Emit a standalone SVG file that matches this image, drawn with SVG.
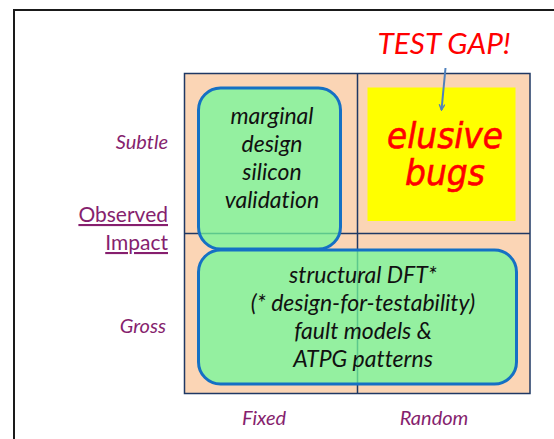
<svg xmlns="http://www.w3.org/2000/svg" width="554" height="439" viewBox="0 0 554 439">
<defs>
<style>
text{font-variant-ligatures:none}
.lbl{font-family:Lato,"Liberation Sans",sans-serif;font-style:italic;font-size:20px;fill:#861F6E}
.axis{font-family:Lato,"Liberation Sans",sans-serif;font-size:21px;fill:#861F6E;text-decoration:underline}
.box{fill:#72F899;fill-opacity:0.75;stroke:#1570C4;stroke-width:3}
.bt{font-family:Lato,"Liberation Sans",sans-serif;font-style:italic;font-size:23px;fill:#111;text-anchor:middle}
.grid{fill:none;stroke:#1F3864;stroke-width:1.5}
.bug{font-family:"DejaVu Sans",sans-serif;font-style:oblique;font-size:36px;fill:#FF0000;stroke:#FF0000;stroke-width:0.6;text-anchor:middle}
</style>
<marker id="ah" viewBox="0 0 10 10" refX="9" refY="5" markerWidth="7" markerHeight="7" orient="auto" markerUnits="userSpaceOnUse">
<path d="M1,1 L9,5 L1,9" fill="none" stroke="#4F81BD" stroke-width="2"/>
</marker>
</defs>
<rect width="554" height="439" fill="#ffffff"/>
<path d="M14,439 V10 H554" fill="none" stroke="#1a1a1a" stroke-width="2"/>
<g id="grid">
<rect x="184.5" y="73.5" width="345.5" height="320" fill="#FBD5B5"/>
<rect x="184.5" y="73.5" width="345.5" height="320" class="grid"/>
<line x1="357.5" y1="73.5" x2="357.5" y2="393.5" class="grid"/>
<line x1="184.5" y1="233.5" x2="530" y2="233.5" class="grid"/>
</g>
<g id="labels">
<text class="lbl" x="168" y="149" text-anchor="end">Subtle</text>
<text class="axis" x="168" y="222" text-anchor="end">Observed</text>
<text class="axis" x="168" y="250" text-anchor="end">Impact</text>
<text class="lbl" x="166" y="333" text-anchor="end">Gross</text>
<text class="lbl" x="264" y="425" text-anchor="middle">Fixed</text>
<text class="lbl" x="434" y="425" text-anchor="middle">Random</text>
</g>
<g id="elusive">
<rect x="367.5" y="87.5" width="148" height="133.5" fill="#FFFF00"/>
<text class="bug" x="445" y="148" textLength="116" lengthAdjust="spacingAndGlyphs">elusive</text>
<text class="bug" x="445" y="185" textLength="80" lengthAdjust="spacingAndGlyphs">bugs</text>
</g>
<g id="marginal">
<rect class="box" x="198.5" y="88" width="142" height="161" rx="22"/>
<text class="bt" x="272" y="124">marginal</text>
<text class="bt" x="272" y="152">design</text>
<text class="bt" x="272" y="180">silicon</text>
<text class="bt" x="272" y="208">validation</text>
</g>
<g id="structural">
<rect class="box" x="198.5" y="250" width="318" height="134" rx="22"/>
<text class="bt" x="363" y="283">structural DFT*</text>
<text class="bt" x="363" y="311">(* design-for-testability)</text>
<text class="bt" x="363" y="339">fault models &amp;</text>
<text class="bt" x="363" y="367">ATPG patterns</text>
</g>
<g id="testgap">
<text x="444" y="54" text-anchor="middle" font-family="Lato,'Liberation Sans',sans-serif" font-style="italic" font-size="29" fill="#FF0000" textLength="133" lengthAdjust="spacingAndGlyphs">TEST GAP!</text>
</g>
<g id="connectors">
<line x1="445.5" y1="68" x2="441.5" y2="110" stroke="#4F81BD" stroke-width="2" marker-end="url(#ah)"/>
</g>
</svg>
